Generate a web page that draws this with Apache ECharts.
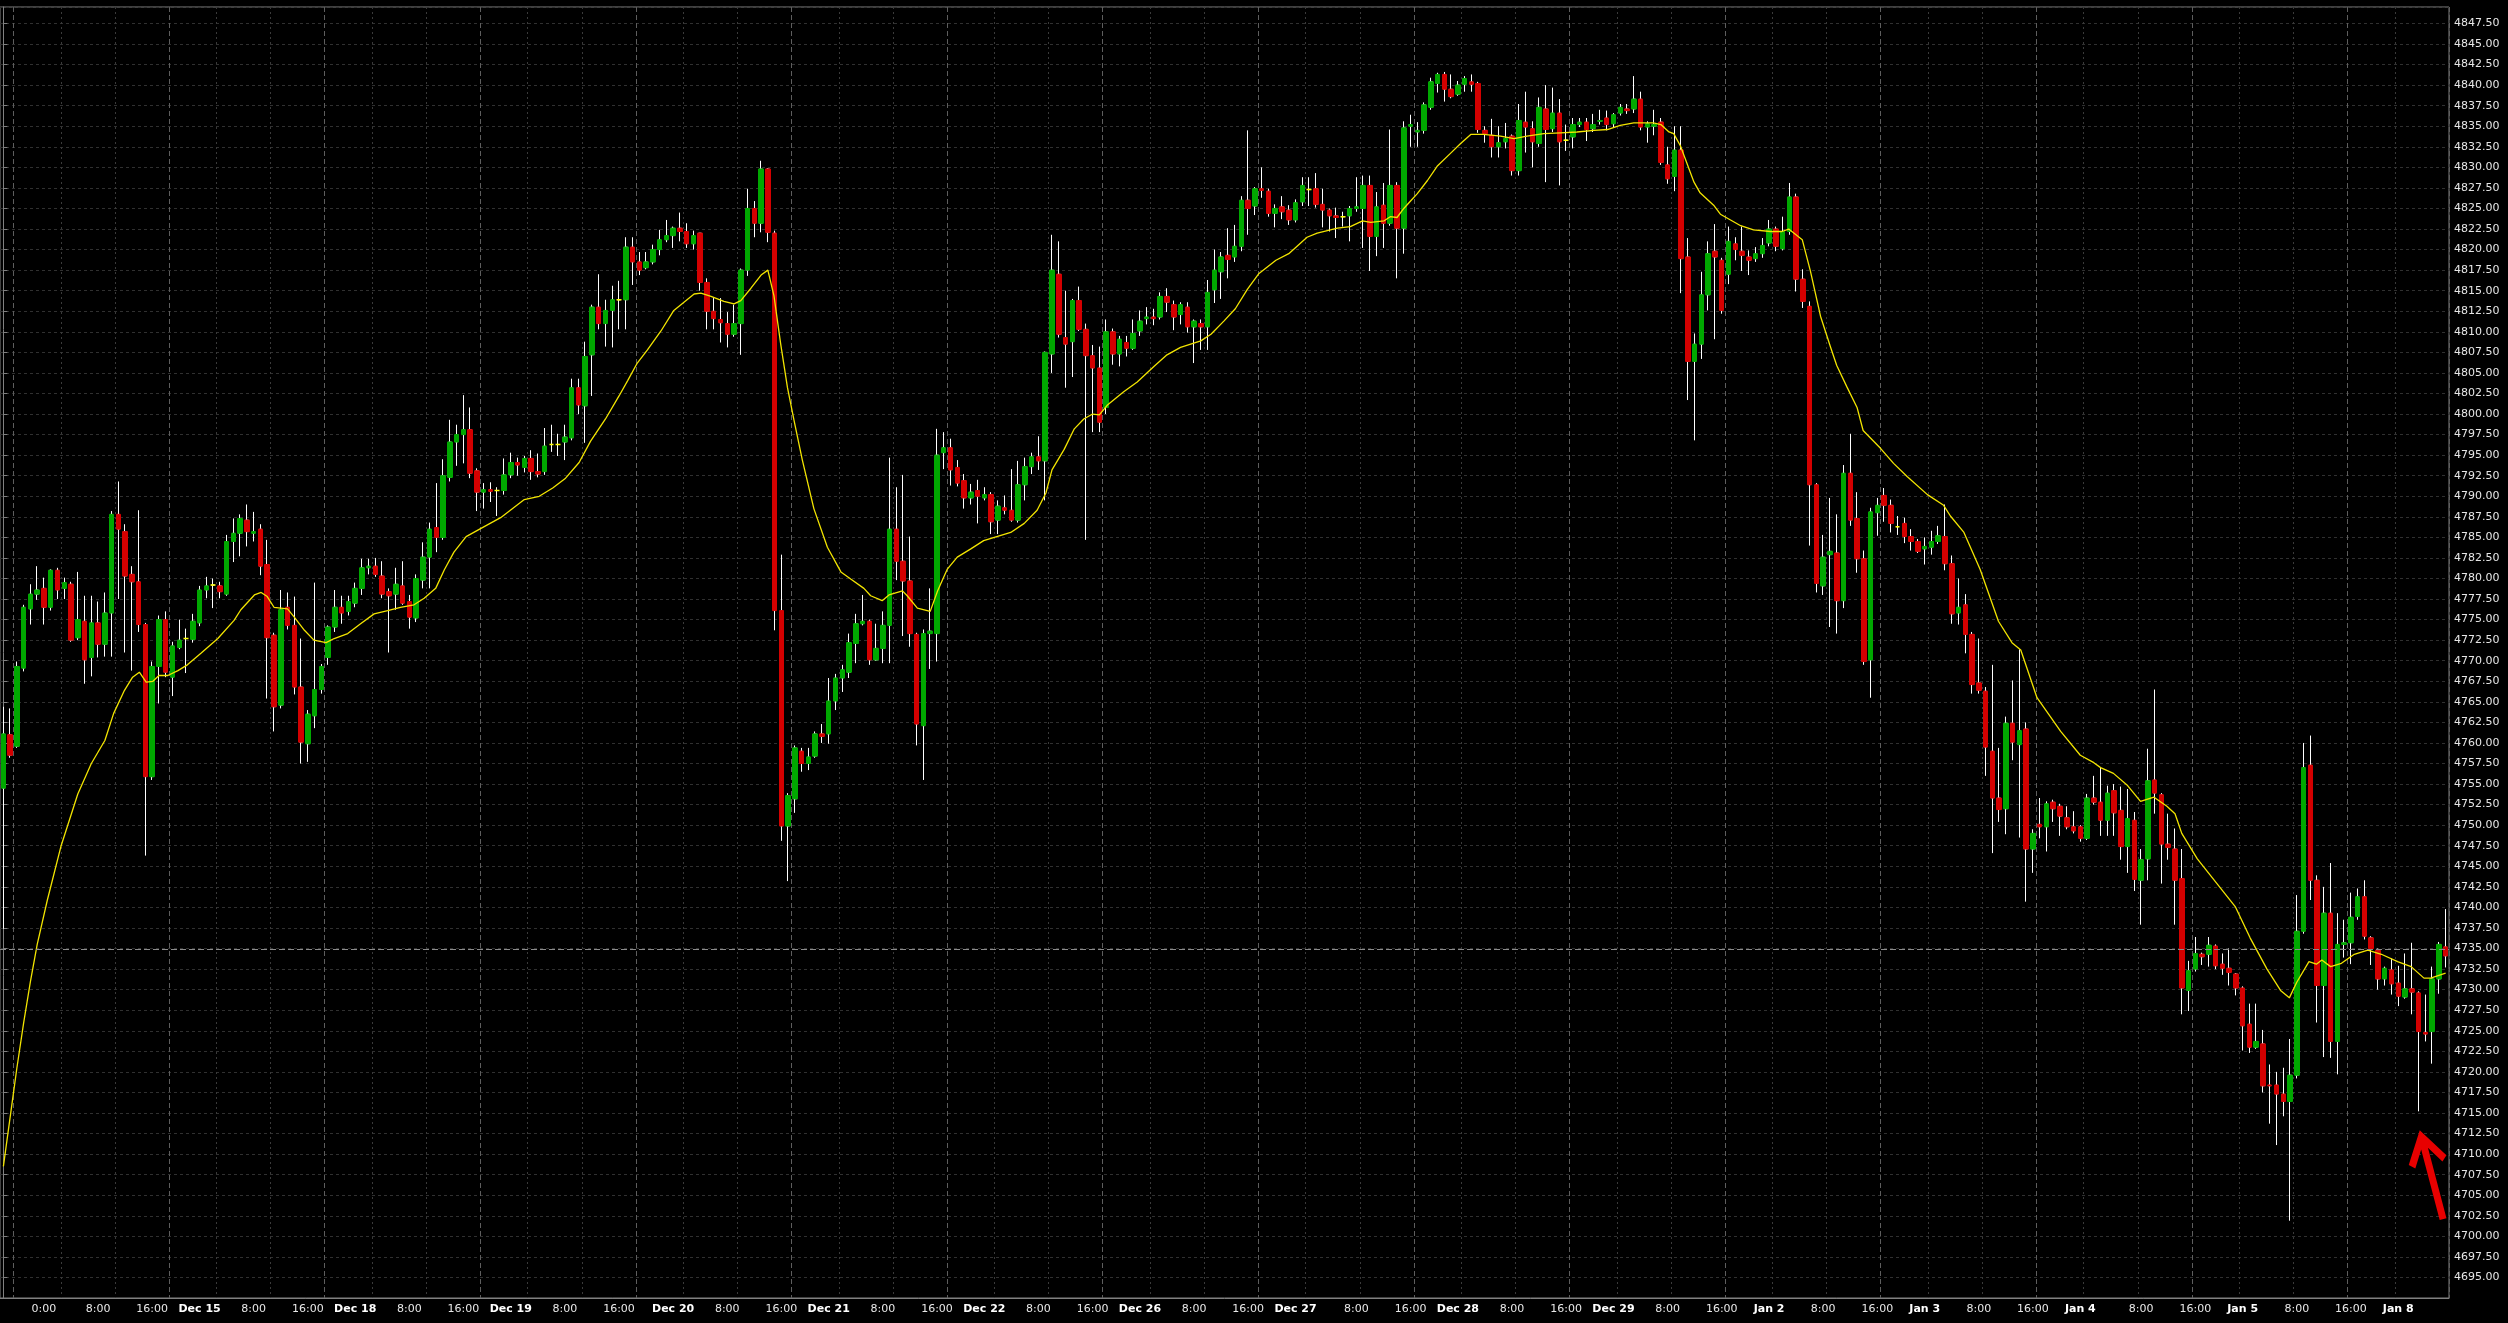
<!DOCTYPE html>
<html><head><meta charset="utf-8">
<script src="https://cdn.jsdelivr.net/npm/echarts@6/dist/echarts.min.js"></script>
<style>html,body{margin:0;padding:0;background:#000;}#c{width:2508px;height:1323px;}</style>
</head><body><div id="c"></div>
<script>
// ---- data (hourly bars) ----
const opens = [
4754.5,4761.0,4759.6,4769.1,4776.3,4778.1,4778.8,4776.5,4781.0,4778.8,
4779.3,4772.8,4774.8,4770.4,4774.6,4772.0,4775.8,4787.8,4785.7,4780.5,
4779.6,4774.4,4755.9,4769.3,4775.0,4768.0,4771.6,4772.7,4772.6,4774.6,
4778.6,4779.2,4779.1,4778.1,4784.5,4785.5,4787.1,4785.5,4786.0,4781.7,
4773.1,4764.6,4776.5,4774.3,4766.8,4759.9,4763.3,4766.5,4770.4,4774.1,
4776.5,4776.0,4777.0,4778.8,4781.3,4781.5,4780.3,4778.4,4778.1,4779.1,
4777.2,4775.2,4779.8,4782.6,4786.2,4785.0,4792.3,4796.6,4797.5,4798.1,
4793.1,4790.5,4790.8,4790.7,4790.7,4792.6,4794.1,4793.5,4794.6,4793.0,
4793.0,4796.3,4796.3,4796.6,4797.1,4803.2,4801.0,4807.2,4813.0,4811.0,
4812.6,4813.9,4813.9,4820.3,4818.5,4817.8,4818.5,4820.0,4821.2,4821.7,
4822.6,4822.2,4820.7,4822.0,4816.0,4812.5,4811.5,4811.0,4809.7,4811.0,
4817.5,4825.0,4823.2,4829.8,4822.0,4776.1,4749.9,4753.2,4759.0,4757.5,
4758.4,4761.1,4761.1,4765.1,4767.9,4768.6,4772.1,4774.5,4774.8,4770.1,
4771.5,4774.3,4786.0,4782.1,4779.7,4773.2,4762.1,4773.3,4773.3,4795.3,
4795.9,4793.5,4791.9,4789.8,4790.7,4789.8,4790.2,4787.1,4788.6,4788.3,
4787.1,4791.4,4793.6,4794.8,4794.3,4807.3,4817.0,4809.3,4808.8,4813.8,
4810.3,4807.1,4805.6,4800.8,4810.0,4807.3,4808.7,4808.0,4810.1,4811.6,
4811.8,4811.8,4814.3,4813.3,4812.1,4813.0,4810.6,4811.0,4810.6,4815.1,
4817.3,4819.3,4819.1,4820.4,4826.0,4825.3,4827.4,4827.1,4824.4,4825.2,
4824.8,4823.6,4825.8,4827.3,4827.4,4825.5,4824.8,4824.1,4824.0,4824.1,
4825.0,4825.0,4827.8,4821.6,4825.4,4823.2,4827.8,4822.6,4835.0,4834.3,
4834.5,4837.3,4840.2,4841.3,4839.5,4838.9,4840.1,4840.4,4840.2,4834.5,
4833.9,4832.5,4833.1,4833.8,4829.6,4835.5,4834.7,4832.9,4837.1,4834.7,
4836.6,4833.3,4833.7,4835.2,4835.5,4834.7,4835.6,4836.0,4835.3,4836.6,
4837.1,4837.1,4838.3,4834.9,4835.0,4835.5,4830.3,4828.9,4832.1,4819.1,
4806.4,4808.5,4814.5,4819.8,4818.7,4817.0,4820.7,4819.8,4819.1,4818.9,
4819.5,4820.8,4822.5,4820.1,4822.2,4826.4,4816.4,4813.1,4791.4,4779.1,
4782.9,4783.1,4777.3,4792.8,4787.3,4782.4,4770.1,4788.0,4790.1,4788.9,
4786.3,4786.7,4785.1,4784.5,4783.6,4783.8,4784.5,4785.1,4781.8,4775.8,
4776.8,4773.2,4767.3,4766.3,4759.0,4753.3,4752.0,4762.4,4759.8,4761.7,
4747.1,4750.1,4749.8,4752.8,4752.3,4750.9,4749.8,4749.8,4748.4,4753.3,
4752.8,4750.6,4754.2,4751.8,4747.4,4750.6,4743.3,4745.9,4755.5,4753.7,
4747.7,4747.1,4743.5,4729.9,4732.5,4734.3,4734.3,4735.3,4733.1,4732.6,
4731.9,4730.2,4725.8,4723.0,4723.4,4718.4,4718.4,4717.3,4716.4,4719.6,
4737.1,4757.3,4743.3,4730.5,4739.3,4723.7,4735.5,4735.7,4738.9,4741.3,
4736.3,4734.8,4731.3,4732.4,4730.8,4729.1,4730.1,4729.6,4724.8,4724.9,
4731.3,4735.2];
const closes = [
4761.1,4758.5,4769.3,4776.5,4778.1,4778.6,4776.5,4781.0,4778.6,4779.5,
4772.5,4775.0,4770.1,4774.6,4772.0,4775.8,4787.8,4786.0,4780.3,4779.6,
4774.4,4755.9,4769.3,4775.0,4768.6,4771.8,4772.5,4772.7,4774.8,4778.6,
4779.1,4779.2,4778.4,4784.5,4785.5,4787.3,4785.7,4785.7,4781.5,4772.8,
4764.4,4776.2,4774.3,4766.8,4760.1,4763.5,4766.5,4769.3,4774.1,4776.5,
4775.8,4777.2,4778.8,4781.3,4781.5,4780.5,4778.1,4777.9,4779.3,4777.0,
4775.3,4780.0,4782.6,4786.0,4785.0,4792.5,4796.6,4797.5,4798.1,4792.8,
4790.5,4790.8,4790.6,4790.7,4792.6,4794.1,4793.8,4794.6,4793.0,4792.7,
4796.1,4796.3,4796.3,4797.2,4803.2,4801.1,4807.0,4813.0,4811.0,4812.6,
4813.9,4813.9,4820.3,4818.5,4817.5,4818.5,4820.0,4821.2,4821.7,4822.6,
4822.2,4820.7,4821.7,4816.0,4812.5,4811.6,4811.1,4809.7,4811.0,4817.5,
4825.0,4823.2,4829.8,4822.1,4776.1,4749.9,4753.6,4759.4,4757.5,4758.3,
4761.1,4760.8,4765.1,4767.9,4768.9,4772.2,4774.5,4774.8,4770.1,4771.5,
4774.3,4786.0,4782.1,4779.7,4773.3,4762.3,4773.3,4773.6,4795.0,4795.9,
4793.2,4791.6,4789.8,4790.5,4790.0,4790.2,4786.9,4788.8,4788.3,4787.1,
4791.4,4793.6,4794.8,4794.3,4807.5,4817.5,4809.7,4808.5,4813.8,4810.3,
4807.1,4805.6,4799.0,4810.0,4807.3,4809.1,4808.0,4809.8,4811.3,4811.8,
4811.6,4814.3,4813.6,4811.8,4813.3,4810.6,4811.3,4810.6,4814.8,4817.5,
4819.1,4818.8,4820.4,4826.0,4825.0,4827.4,4827.2,4824.4,4825.0,4824.6,
4823.6,4825.7,4827.8,4827.3,4825.5,4824.8,4824.1,4823.9,4824.0,4825.0,
4825.2,4827.8,4821.6,4825.2,4823.2,4827.8,4822.6,4834.8,4835.2,4834.5,
4837.6,4840.4,4841.3,4839.5,4838.6,4840.0,4840.8,4840.1,4834.6,4834.1,
4832.5,4833.0,4833.5,4829.6,4835.7,4834.9,4833.1,4837.3,4834.6,4836.6,
4833.1,4833.3,4835.2,4835.5,4834.6,4835.2,4835.7,4835.2,4836.4,4837.3,
4836.9,4838.3,4834.9,4835.3,4835.2,4830.6,4828.6,4832.1,4818.9,4806.4,
4808.5,4814.5,4819.5,4819.1,4812.6,4821.0,4820.0,4819.3,4818.7,4819.5,
4820.5,4822.5,4820.4,4822.2,4826.4,4816.4,4813.7,4791.4,4779.4,4782.6,
4783.3,4777.3,4792.8,4787.1,4782.4,4769.9,4788.1,4788.9,4788.9,4786.7,
4786.3,4785.1,4784.5,4783.3,4783.9,4784.5,4785.2,4781.8,4775.7,4776.5,
4773.2,4767.1,4766.4,4759.5,4753.3,4751.9,4762.4,4760.1,4761.5,4747.1,
4749.0,4749.8,4752.6,4752.0,4751.1,4749.8,4749.3,4748.4,4753.3,4752.8,
4750.6,4753.9,4751.5,4747.4,4750.8,4743.4,4745.8,4755.4,4753.9,4747.7,
4747.3,4743.3,4730.2,4732.3,4734.4,4734.0,4735.4,4732.9,4732.6,4732.1,
4730.2,4725.6,4723.0,4723.7,4718.3,4718.3,4717.3,4716.4,4719.6,4737.1,
4757.0,4743.3,4730.5,4739.3,4723.7,4735.5,4735.7,4738.8,4741.3,4736.5,
4735.0,4731.3,4732.6,4730.7,4729.2,4730.1,4729.7,4724.9,4724.6,4731.3,
4735.5,4734.1];
const lows = [
4737.4,4758.2,4759.4,4768.7,4774.4,4777.4,4774.4,4776.1,4777.5,4777.5,
4772.3,4772.5,4767.2,4768.1,4770.4,4770.5,4770.5,4777.5,4771.0,4768.8,
4773.5,4746.3,4755.5,4764.8,4768.0,4765.7,4771.4,4768.5,4772.2,4774.2,
4777.6,4776.4,4777.6,4777.9,4782.0,4782.7,4783.9,4784.5,4780.4,4765.4,
4761.4,4764.2,4773.8,4765.9,4757.5,4757.7,4761.8,4766.0,4769.5,4773.5,
4774.5,4775.5,4776.5,4778.0,4780.5,4780.2,4777.6,4771.0,4776.2,4776.8,
4773.9,4774.7,4778.8,4778.8,4783.2,4784.7,4791.8,4793.7,4794.0,4792.2,
4788.2,4788.5,4789.3,4787.6,4790.2,4792.2,4792.5,4792.9,4792.0,4792.3,
4792.6,4795.4,4794.9,4794.4,4796.8,4800.0,4796.5,4802.2,4810.3,4808.2,
4808.1,4810.3,4810.3,4815.7,4816.9,4817.6,4818.2,4819.3,4820.9,4820.2,
4821.0,4820.2,4820.0,4815.0,4810.3,4810.3,4808.7,4808.1,4809.4,4807.2,
4816.8,4821.5,4822.1,4820.9,4773.7,4748.1,4743.2,4751.5,4756.5,4756.7,
4758.2,4760.0,4759.9,4764.0,4766.2,4767.9,4769.7,4774.3,4769.5,4770.0,
4769.7,4769.7,4779.8,4773.0,4771.7,4759.7,4755.5,4769.0,4769.9,4793.3,
4791.3,4791.2,4788.5,4789.0,4786.7,4789.5,4785.4,4785.4,4787.8,4786.9,
4786.8,4789.5,4792.7,4793.2,4789.5,4805.0,4809.3,4803.2,4804.5,4810.1,
4784.7,4797.8,4797.8,4800.0,4806.0,4805.8,4807.0,4807.8,4809.5,4810.9,
4810.8,4811.5,4812.4,4810.2,4810.9,4809.9,4806.2,4807.8,4807.8,4813.5,
4814.0,4816.5,4818.5,4819.8,4821.8,4824.2,4826.3,4824.0,4822.7,4823.7,
4823.0,4823.3,4825.3,4825.3,4825.1,4822.7,4822.2,4821.4,4822.8,4821.0,
4824.6,4820.2,4817.4,4819.2,4820.2,4822.9,4816.5,4819.5,4832.5,4832.5,
4834.1,4837.0,4839.1,4838.0,4838.4,4838.7,4839.2,4839.2,4834.2,4833.0,
4831.2,4831.2,4832.3,4829.0,4829.0,4831.8,4830.0,4832.5,4828.2,4834.3,
4827.8,4832.0,4832.3,4834.9,4833.2,4834.3,4835.2,4834.5,4834.9,4836.3,
4836.5,4836.6,4834.5,4833.0,4833.9,4830.3,4828.0,4827.1,4814.7,4801.7,
4796.8,4806.7,4812.6,4809.1,4812.2,4815.8,4818.7,4817.4,4816.9,4818.5,
4819.0,4820.4,4819.8,4819.9,4821.8,4814.9,4812.9,4784.0,4778.3,4778.0,
4774.1,4773.3,4776.4,4786.4,4780.7,4769.5,4765.5,4785.2,4786.9,4785.6,
4785.3,4784.3,4783.4,4783.1,4781.7,4782.9,4784.2,4781.0,4774.5,4774.4,
4770.9,4766.0,4766.0,4756.0,4746.6,4750.4,4748.9,4757.9,4748.5,4740.7,
4744.2,4748.4,4746.8,4750.4,4748.7,4749.5,4749.0,4748.0,4748.2,4752.5,
4748.7,4748.7,4748.7,4745.8,4744.2,4742.0,4737.9,4743.3,4751.4,4742.9,
4745.8,4737.9,4727.0,4727.4,4732.2,4733.0,4732.8,4732.5,4731.8,4730.5,
4729.3,4722.6,4722.3,4722.8,4717.5,4713.7,4711.1,4714.6,4701.9,4719.2,
4736.8,4740.9,4726.0,4721.8,4721.7,4719.7,4733.9,4733.1,4738.5,4736.1,
4733.0,4730.0,4730.5,4729.4,4728.0,4728.9,4727.0,4715.2,4723.7,4721.0,
4729.5,4732.7];
const highs = [
4764.4,4764.2,4769.9,4776.8,4779.3,4781.5,4780.1,4781.1,4781.3,4780.1,
4779.6,4780.8,4777.9,4777.9,4777.2,4778.3,4788.2,4791.8,4786.6,4781.5,
4788.3,4774.6,4769.9,4775.5,4776.0,4772.3,4775.0,4773.9,4775.7,4779.1,
4780.2,4780.0,4779.6,4785.3,4787.3,4787.8,4789.0,4788.1,4786.6,4784.7,
4773.4,4778.6,4778.3,4777.8,4772.7,4764.0,4779.5,4769.6,4774.3,4778.6,
4777.9,4777.9,4779.5,4782.4,4782.4,4782.5,4782.1,4778.8,4781.3,4782.1,
4778.0,4780.5,4784.4,4786.8,4791.6,4794.5,4799.3,4798.7,4802.3,4800.8,
4793.4,4791.6,4791.7,4791.1,4794.6,4795.3,4794.7,4794.9,4795.6,4795.2,
4798.3,4798.7,4797.6,4798.7,4804.3,4804.3,4808.8,4813.3,4817.0,4813.9,
4815.6,4816.2,4821.5,4821.5,4819.7,4819.7,4820.6,4822.4,4823.6,4822.8,
4824.5,4823.2,4822.3,4822.0,4816.5,4814.1,4814.1,4812.4,4813.3,4817.7,
4827.4,4825.9,4830.8,4829.9,4822.3,4782.9,4753.9,4759.7,4759.4,4759.4,
4761.4,4762.3,4767.9,4768.4,4769.5,4773.3,4775.7,4778.0,4775.0,4774.5,
4776.0,4794.7,4791.1,4792.6,4785.1,4773.4,4773.8,4778.8,4798.2,4797.8,
4797.0,4794.4,4792.7,4791.5,4792.0,4791.1,4790.5,4789.5,4790.1,4793.3,
4794.3,4794.7,4795.3,4797.3,4807.6,4821.8,4821.0,4815.0,4814.0,4815.5,
4811.0,4808.4,4808.2,4811.5,4810.4,4809.5,4809.5,4811.5,4812.6,4813.0,
4812.8,4814.8,4815.3,4813.8,4813.6,4813.6,4811.5,4811.5,4816.3,4820.0,
4819.7,4822.6,4823.0,4826.5,4834.5,4827.6,4830.0,4827.4,4825.5,4826.5,
4825.4,4826.1,4828.8,4828.8,4829.3,4827.4,4825.0,4825.1,4824.6,4825.3,
4828.8,4829.0,4829.0,4827.0,4828.1,4834.6,4828.2,4835.6,4836.4,4835.5,
4837.9,4840.9,4841.5,4841.6,4841.3,4840.5,4841.1,4841.3,4840.4,4835.0,
4835.9,4835.0,4835.4,4834.0,4837.7,4839.2,4835.6,4838.5,4840.0,4839.7,
4838.3,4835.2,4836.0,4836.0,4836.0,4836.5,4837.0,4836.9,4836.6,4837.7,
4837.7,4841.1,4839.2,4835.6,4837.0,4836.0,4832.5,4835.0,4835.0,4821.4,
4809.8,4817.3,4821.0,4823.1,4819.0,4822.8,4821.5,4822.8,4819.9,4820.3,
4821.4,4823.6,4822.8,4824.0,4828.1,4826.8,4817.6,4813.7,4791.6,4785.3,
4789.8,4787.8,4793.8,4797.6,4790.5,4783.4,4788.6,4789.8,4791.0,4789.6,
4787.6,4787.4,4786.0,4784.8,4785.0,4785.8,4786.4,4789.0,4782.8,4780.0,
4778.1,4773.5,4772.7,4766.8,4769.5,4759.4,4763.2,4767.6,4771.4,4762.5,
4749.5,4753.3,4752.9,4753.1,4752.6,4752.3,4751.7,4750.0,4753.8,4756.0,
4757.0,4754.8,4755.0,4754.7,4754.4,4751.6,4747.1,4759.3,4766.5,4753.9,
4751.4,4749.6,4747.1,4733.5,4736.4,4734.5,4736.4,4735.5,4734.4,4735.0,
4732.0,4730.4,4728.3,4728.3,4725.1,4720.9,4720.0,4720.5,4724.0,4741.5,
4760.0,4760.9,4743.9,4742.5,4745.4,4739.3,4738.5,4741.8,4742.3,4743.3,
4736.5,4735.0,4732.8,4733.8,4732.9,4734.4,4735.7,4729.8,4729.4,4732.8,
4735.8,4739.8];

// moving average: bar position -> value
const maBars = [0,1,2,3,4,5,
6.5,8.5,11,13,15,16.3,17.9,19.1,20.1,21.1,22.1,23,24.3,25.8,27.2,29.2,31.7,34.1,35.1,37.1,38.1,39,40,42,43,44.5,45.9,47.7,48.9,50.9,52.8,54.8,56.8,58.7,
60.7,62.2,63.9,65.2,66.6,68.4,70.6,
73.5,77,79.2,81.2,83.1,85.1,86.8,89,91,92.3,93.7,95.2,97.2,99.1,100.6,102.1,103.1,104.6,106.5,108,109,110.5,112,113,113.9,114.9,115.9,116.9,118.1,119.8,121.8,123.8,125.3,127.2,128.2,129.9,130.9,132.9,133.6,135.1,137,138.1,139.5,141,143,144.9,
148.9,150.9,152.8,154.1,155,156.8,158.3,159.7,161,162,163.2,165.6,167.6,170.1,172,174,177,178.5,180.4,182.1,183.9,185.6,188.1,190,192.7,194.2,197.2,199.1,200.9,202.1,204.1,205,206,207,208,209,210.5,212,213.9,215.4,216.9,
218.8,221.3,223.3,225.2,227.7,230.2,232.6,235.1,237.1,239,241,243.9,245,246.2,246.9,247.9,249.9,250.8,252.8,253.8,256.8,258.7,261.2,262.9,263.9,265.9,267.1,268.6,270.1,271,272.5,274,274.9,277.5,279.4,281.4,284.4,286.8,287.8,
289.8,292.2,294.9,296.9,298.2,300.6,304.1,307,309,310,311.9,313.9,315.9,317.9,319.8,321,322,324.3,327.2,329.9,332.1,334.6,336.6,337.9,339,340.8,341.9,342.7,344,345.6,347.5,349.5,351.5,353.9,355.9,357.8,358.8,361];
const maValues = [4708.5,4714.5,4720.5,4726,4731,4735.5,
4740.9,4747.4,4753.8,4757.5,4760.3,4763.6,4766.4,4768.0,4768.6,4767.4,4767.5,4768.2,4768.2,4768.8,4769.5,4770.9,4772.7,4774.9,4776.2,4778.0,4778.3,4777.8,4776.5,4776.3,4775.3,4773.7,4772.5,4772.2,4772.7,4773.3,4774.5,4775.7,4776.1,4776.5,
4776.8,4777.6,4778.8,4781.1,4783.2,4785.1,4786.1,
4787.4,4789.6,4790.0,4791.0,4792.2,4794.1,4796.7,4799.4,4802.2,4804.1,4806.2,4807.8,4810.1,4812.6,4813.6,4814.6,4814.7,4814.3,4813.7,4813.4,4813.8,4815.3,4816.9,4817.5,4814.4,4808.5,4803.2,4799.1,4794.4,4788.5,4783.8,4780.8,4779.9,4778.8,4777.9,4777.3,4778.0,4778.5,4777.9,4776.4,4776.0,4778.5,4781.1,4782.6,4783.6,4784.6,
4785.6,4786.7,4788.3,4790.4,4793.2,4795.7,4798.2,4799.4,4800.0,4799.9,4801.1,4802.7,4803.9,4805.8,4807.2,4808.1,4808.9,4809.7,4811.3,4812.8,4815.2,4817.1,4818.7,4819.5,4821.5,4822.0,4822.6,4822.8,4823.5,4823.3,4823.5,4824.0,4823.9,4825.0,4825.9,4826.8,4828.4,4830.2,4831.7,4832.9,4834.0,
4834.0,4833.8,4833.5,4833.8,4834.1,4834.2,4834.3,4834.5,4834.6,4835.1,4835.4,4835.4,4835.2,4834.3,4834.1,4832.6,4828.2,4826.9,4825.4,4824.3,4822.9,4822.4,4822.2,4822.2,4822.5,4821.2,4817.4,4811.9,4808.1,4805.9,4803.3,4800.8,4798.0,4795.8,4794.0,4792.4,4790.2,4788.9,4787.6,
4785.6,4781.1,4774.8,4772.2,4771.3,4765.5,4761.4,4758.5,4757.6,4757.0,4756.3,4754.9,4752.9,4753.4,4752.3,4751.4,4749.0,4745.9,4742.9,4740.1,4736.3,4732.5,4729.9,4729.0,4730.9,4733.4,4733.1,4733.6,4732.8,4733.2,4734.3,4734.8,4734.3,4733.4,4732.8,4731.4,4731.4,4732.0];

// time-axis tick labels and the bar they sit under
const tickLabels = ['0:00','8:00','16:00','Dec 15','8:00','16:00','Dec 18','8:00','16:00','Dec 19','8:00','16:00','Dec 20','8:00','16:00','Dec 21','8:00','16:00','Dec 22','8:00','16:00','Dec 26','8:00','16:00','Dec 27','8:00','16:00','Dec 28','8:00','16:00','Dec 29','8:00','16:00','Jan 2','8:00','16:00','Jan 3','8:00','16:00','Jan 4','8:00','16:00','Jan 5','8:00','16:00','Jan 8'];
const tickLabelBars = [6,14,22,29,37,45,52,60,68,75,83,91,99,107,115,122,130,138,145,153,161,168,176,184,191,200,208,215,223,231,238,246,254,261,269,277,284,292,300,307,316,324,331,339,347,354];
const dayLineBars = [2,25,48,71,94,117,140,163,186,209,232,255,278,301,324,347];
const hourLineBars = [9,17,32,40,55,63,78,86,101,109,124,132,147,155,170,178,193,201,216,224,239,247,262,270,285,293,308,316,331,339,354];
const lastPrice = 4734.9;
const arrowAt = [358.9, 4707.5];

// ---- build ----
const N = opens.length;
const categories = opens.map((_, i) => 'b' + i);
const labelMap = {}; tickLabelBars.forEach((b, k) => { labelMap[b] = tickLabels[k]; });
const daySet = new Set(dayLineBars), hourSet = new Set(hourLineBars);
const fullData = opens.map((o, i) => [o, closes[i], lows[i], highs[i]]);
const YEL = '#ffff00';
const bodyData = opens.map((o, i) => {
  const c = closes[i];
  const v = [o, c, Math.min(o, c), Math.max(o, c)];
  if (o === c) return { value: v, itemStyle: { color: YEL, color0: YEL, borderColor: YEL, borderColor0: YEL, borderColorDoji: YEL, borderWidth: 1.6 } };
  return v;
});
const FONT = 'DejaVu Sans';
const chart = echarts.init(document.getElementById('c'), null, { renderer: 'canvas' });
chart.setOption({
  backgroundColor: '#000',
  animation: false,
  textStyle: { fontFamily: FONT },
  grid: { left: 0, right: 59, top: 7, bottom: 25, show: true, borderColor: '#808080', borderWidth: 1, outerBoundsMode: 'none' },
  xAxis: [
    { type: 'category', data: categories, boundaryGap: true,
      axisLine: { show: true, lineStyle: { color: '#808080' } }, axisTick: { show: false },
      axisLabel: { interval: (i) => labelMap[i] !== undefined, margin: 6, color: '#e8e8e8', fontSize: 11, fontFamily: FONT,
        formatter: (v, i) => { const t = labelMap[i]; if (!t) return ''; return /^[A-Z]/.test(t) ? '{d|' + t + '}' : t; },
        rich: { d: { fontWeight: 'bold', fontSize: 11, color: '#ffffff', fontFamily: FONT } } },
      splitLine: { show: true, interval: (i) => hourSet.has(i), lineStyle: { color: '#3a3a3a', type: [2, 3], width: 1 } } },
    { type: 'category', data: categories, boundaryGap: true,
      axisLine: { show: false }, axisTick: { show: false }, axisLabel: { show: false },
      splitLine: { show: true, interval: (i) => daySet.has(i), lineStyle: { color: '#5e5e5e', type: [5, 3], width: 1 } } },
    { type: 'value', min: -0.5, max: N - 0.5, show: false }
  ],
  yAxis: {
    type: 'value', position: 'right', min: 4692.5, max: 4849.5, interval: 2.5,
    axisLine: { show: true, lineStyle: { color: '#808080' } },
    axisTick: { show: true, length: 4, lineStyle: { color: '#808080' } },
    axisLabel: { color: '#e6e6e6', fontSize: 11, fontFamily: FONT, margin: 5, showMinLabel: false, showMaxLabel: false,
      formatter: (v) => v.toFixed(2) },
    splitLine: { show: true, lineStyle: { color: '#303030', type: [3, 3], width: 1 } }
  },
  series: [
    { type: 'candlestick', name: 'range', xAxisIndex: 0, data: fullData, barWidth: 3, silent: true,
      itemStyle: { color: '#fff', color0: '#fff', borderColor: '#fff', borderColor0: '#fff', borderColorDoji: '#fff', borderWidth: 1 } },
    { type: 'candlestick', name: 'body', xAxisIndex: 0, data: bodyData, barWidth: 5, silent: true,
      itemStyle: { color: '#00a800', color0: '#d40000', borderColor: '#00a800', borderColor0: '#d40000', borderColorDoji: YEL, borderWidth: 1 },
      markLine: { silent: true, symbol: 'none', label: { show: false },
        lineStyle: { color: '#8c8c8c', type: [6, 3], width: 1 }, data: [{ yAxis: lastPrice }] } },
    { type: 'line', name: 'MA', xAxisIndex: 2, data: maBars.map((b, k) => [b, maValues[k]]),
      showSymbol: false, silent: true, lineStyle: { color: '#f2e400', width: 1.3 },
      markPoint: { silent: true, label: { show: false },
        data: [{ coord: arrowAt, symbol: 'path://M0,-3 L19.5,28 L14,33 L3.5,16 L3.5,89 L-3.5,89 L-3.5,16 L-14,33 L-19.5,28 Z',
          symbolSize: [39, 92], symbolRotate: 14.7, itemStyle: { color: '#e80000' } }] } }
  ]
});
</script></body></html>
